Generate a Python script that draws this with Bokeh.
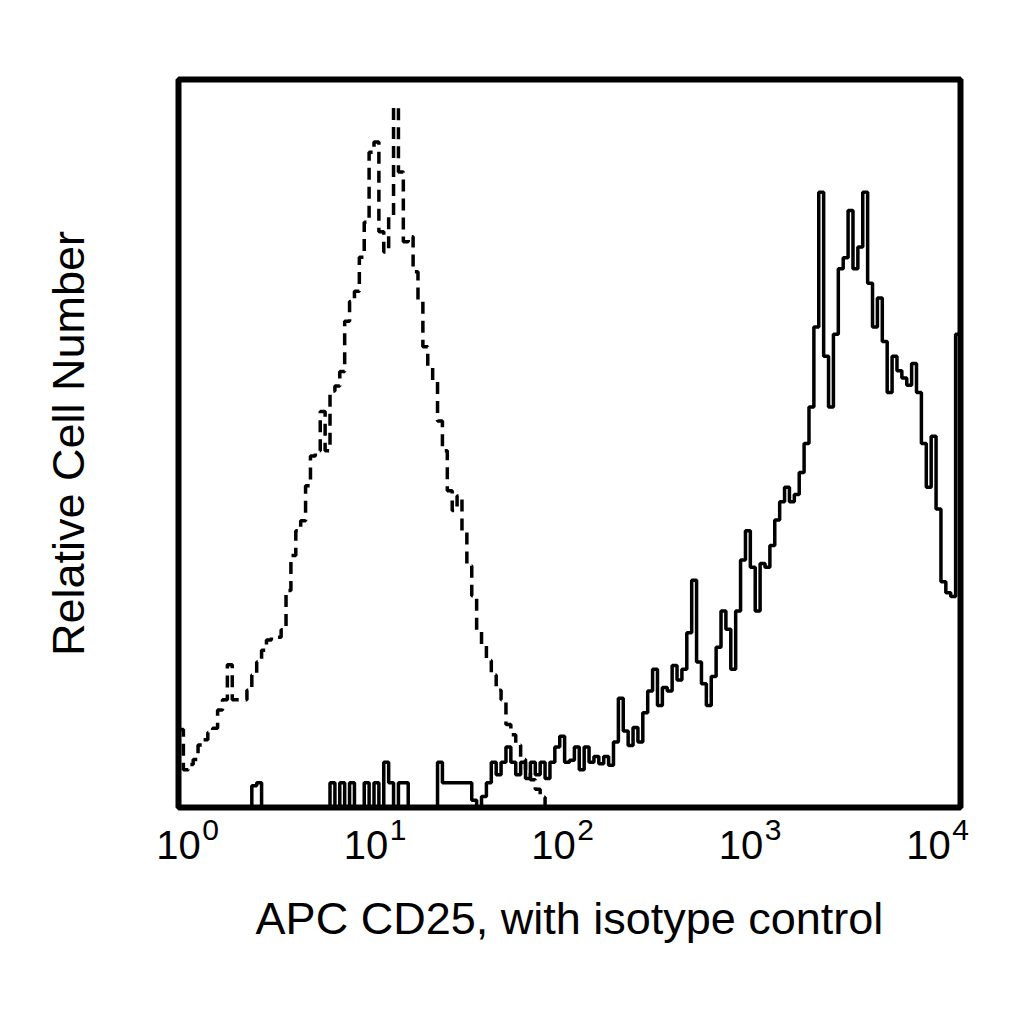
from bokeh.embed import file_html
from bokeh.models import FixedTicker, LogAxis, LogScale, Range1d
from bokeh.plotting import figure
from bokeh.resources import INLINE

# Channel layout of the histograms (log scale, 1 .. 10^4)
DECADES = 4
BINS_PER_DECADE = 40

# Isotype control (dashed), counts per channel starting at 10^0
isotype_counts = [
    10.7, 5.2, 5.9, 6.6, 8.6, 9.3, 10.3, 10.9, 13.4, 14.8,
    19.6, 14.8, 14.8, 14.8, 16.1, 18.2, 20.0, 21.6, 23.0, 23.4,
    23.4, 24.4, 29.8, 34.6, 38.0, 39.4, 44.2, 48.3, 49.0, 54.4,
    49.0, 57.2, 57.9, 59.9, 66.8, 69.5, 70.9, 75.6, 80.4, 90.0,
    91.4, 79.1, 76.3, 81.1, 96.2, 87.3, 77.7, 78.4, 73.6, 69.5,
    63.3, 60.6, 58.6, 53.1, 49.0, 43.5, 40.8, 42.8, 38.0, 33.2,
    29.1, 24.4, 22.3, 20.2, 18.2, 16.1, 14.8, 11.4, 10.0, 8.6,
    6.6, 5.2, 3.8, 2.5, 1.4, 0.0,
]

# APC CD25 stained cells (solid), counts per channel starting at 10^0
cd25_counts = [
    0, 0, 0, 0, 0, 0, 0, 0, 0, 0,
    0, 0, 0, 0, 0, 3.0, 3.4, 0, 0, 0,
    0, 0, 0, 0, 0, 0, 0, 0, 0, 0,
    0, 3.4, 0, 3.4, 0, 3.4, 0, 0, 3.4, 0,
    3.4, 0, 6.2, 3.4, 0, 3.4, 3.4, 0, 0, 0,
    0, 0, 0, 6.2, 3.4, 3.4, 3.4, 3.4, 3.4, 3.4,
    1.0, 0, 1.5, 3.4, 6.2, 4.5, 6.2, 8.3, 6.2, 4.5,
    6.2, 4.0, 6.2, 4.5, 6.2, 4.0, 6.2, 8.3, 9.8, 6.2,
    6.5, 8.3, 5.2, 8.3, 6.2, 7.0, 6.0, 7.0, 5.8, 9.0,
    15.0, 10.5, 8.5, 11.0, 9.0, 13.0, 16.0, 19.0, 14.0, 16.5,
    16.0, 19.5, 17.5, 19.0, 24.0, 31.2, 20.0, 17.0, 14.0, 18.0,
    22.0, 27.0, 24.5, 19.0, 27.0, 34.0, 38.0, 33.0, 27.0, 33.5,
    33.0, 36.0, 39.5, 42.0, 44.0, 42.0, 43.0, 46.0, 50.0, 55.0,
    66.0, 84.5, 62.0, 55.0, 65.0, 74.0, 75.5, 82.0, 74.0, 77.0,
    84.5, 72.0, 66.0, 70.0, 64.0, 57.0, 62.0, 60.0, 59.0, 58.0,
    61.0, 57.0, 50.0, 44.0, 51.0, 41.0, 31.0, 29.5, 29.0, 65.0,
]

tick_values = [1, 10, 100, 1000, 10000]
tick_base = "10"
tick_exponents = ["0", "1", "2", "3", "4"]

FONT = "Liberation Sans"
FRAME_W, FRAME_H = 782, 728
LABEL_STEP = 187.5  # spacing of the tick labels, a bit tighter than the decades


def channel_edges(n):
    # left edge of every channel plus the closing edge
    return [10 ** (i / BINS_PER_DECADE) for i in range(n + 1)]


def step_points(counts):
    xs = channel_edges(len(counts))
    ys = list(counts) + [counts[-1]]
    return xs, ys


def label_range(first_px, step_px):
    # a log range whose decade ticks land first_px from the frame's left edge, step_px apart
    return Range1d(10 ** (-first_px / step_px), 10 ** ((FRAME_W - first_px) / step_px))


p = figure(frame_width=FRAME_W, frame_height=FRAME_H, x_axis_type="log", x_axis_location=None,
           x_range=Range1d(1, 10 ** DECADES), y_range=Range1d(0, 100),
           output_backend="svg", toolbar_location=None, tools="",
           min_border_left=178, min_border_top=79, min_border_right=40, min_border_bottom=150)

p.background_fill_color = "white"
p.border_fill_color = "white"
p.outline_line_color = "black"
p.outline_line_width = 6
p.xgrid.visible = False
p.ygrid.visible = False

# isotype control, dashed
xs, ys = step_points(isotype_counts)
p.step(xs, ys, mode="after", line_color="black", line_width=3.5, line_dash="12 7")

# CD25 stained, solid
xs, ys = step_points(cd25_counts)
p.step(xs, ys, mode="after", line_color="black", line_width=3.5)

# x tick labels "10" with raised exponents, drawn by two stacked axes
p.extra_x_ranges = {"exp": label_range(32, LABEL_STEP), "base": label_range(0, LABEL_STEP)}
p.extra_x_scales = {"exp": LogScale(), "base": LogScale()}

exp_axis = LogAxis(x_range_name="exp", ticker=FixedTicker(ticks=tick_values, minor_ticks=[]))
exp_axis.major_label_overrides = dict(zip(tick_values, tick_exponents))
exp_axis.major_label_text_font_size = "30px"
exp_axis.major_label_standoff = 6

base_axis = LogAxis(x_range_name="base", ticker=FixedTicker(ticks=tick_values, minor_ticks=[]))
base_axis.major_label_overrides = {t: tick_base for t in tick_values}
base_axis.major_label_text_font_size = "40px"
base_axis.major_label_standoff = -18
base_axis.axis_label = "APC CD25, with isotype control"
base_axis.axis_label_text_font = FONT
base_axis.axis_label_text_font_size = "45px"
base_axis.axis_label_text_font_style = "normal"
base_axis.axis_label_text_color = "black"
base_axis.axis_label_standoff = 31

for ax in (exp_axis, base_axis):
    ax.axis_line_color = None
    ax.major_tick_line_color = None
    ax.minor_tick_line_color = None
    ax.major_label_text_font = FONT
    ax.major_label_text_color = "black"

p.add_layout(exp_axis, "below")
p.add_layout(base_axis, "below")

# y axis: title only
p.yaxis.ticker = FixedTicker(ticks=[], minor_ticks=[])
p.yaxis.axis_line_color = None
p.yaxis.major_tick_line_color = None
p.yaxis.minor_tick_line_color = None
p.yaxis.major_label_text_font_size = "0px"
p.yaxis.axis_label = "Relative Cell Number"
p.yaxis.axis_label_text_font = FONT
p.yaxis.axis_label_text_font_size = "45px"
p.yaxis.axis_label_text_font_style = "normal"
p.yaxis.axis_label_text_color = "black"
p.yaxis.axis_label_standoff = 85

open("out.html", "w").write(file_html(p, INLINE))
